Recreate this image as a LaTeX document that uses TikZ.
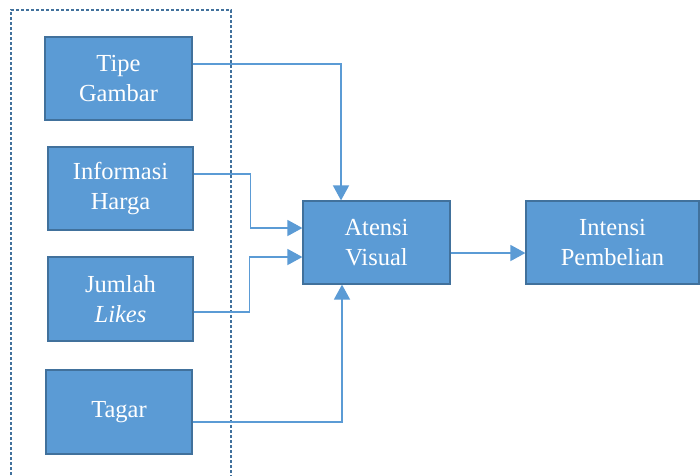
\documentclass[tikz,border=0pt]{standalone}
\usepackage{fontspec}
\setmainfont{Liberation Serif}
\usetikzlibrary{arrows.meta}
\definecolor{boxfill}{HTML}{5B9BD5}
\definecolor{boxline}{HTML}{41719C}
\definecolor{conn}{HTML}{5B9BD5}
\tikzset{
  blk/.style={draw=boxline, line width=1.2pt, fill=boxfill, text=white, align=center,
    font=\fontsize{24.5}{29.5}\selectfont, inner sep=0pt},
  link/.style={draw=conn, line width=1.5pt, -{Triangle[length=15pt,width=16pt]}},
  frame/.style={draw=boxline, line width=1.3pt, dash pattern=on 3pt off 2pt}
}
\begin{document}
\begin{tikzpicture}[x=1pt,y=-1pt]
\useasboundingbox (0,0) rectangle (700,475);
\fill[white] (0,0) rectangle (700,475);
\draw[frame] (11,480) -- (11,10) -- (231,10) -- (231,480);
\node[blk, minimum width=147pt, minimum height=83pt] (tipe) at (118.5,78.5) {Tipe\\Gambar};
\node[blk, minimum width=145pt, minimum height=83pt] (info) at (120.5,188.5) {Informasi\\Harga};
\node[blk, minimum width=145pt, minimum height=84pt] (jml) at (120.5,299) {Jumlah\\\textit{Likes}};
\node[blk, minimum width=146pt, minimum height=84pt] (tagar) at (119,412) {Tagar};
\node[blk, minimum width=147pt, minimum height=83pt] (atensi) at (376.5,242.5) {Atensi\\Visual};
\node[blk, minimum width=173pt, minimum height=83pt] (intensi) at (612.5,242.5) {Intensi\\Pembelian};
\draw[link] ([yshift=14.5pt]tipe.east) -| ([xshift=-35.5pt]atensi.north);
\draw[link] ([yshift=14.5pt]info.east) -- ++(57,0) |- ([yshift=14.5pt]atensi.west);
\draw[link] ([yshift=-13pt]jml.east) -- ++(56,0) |- ([yshift=-14.5pt]atensi.west);
\draw[link] ([yshift=-10pt]tagar.east) -| ([xshift=-34.5pt]atensi.south);
\draw[link] ([yshift=-10.5pt]atensi.east) -- ([yshift=-10.5pt]intensi.west);
\end{tikzpicture}
\end{document}
